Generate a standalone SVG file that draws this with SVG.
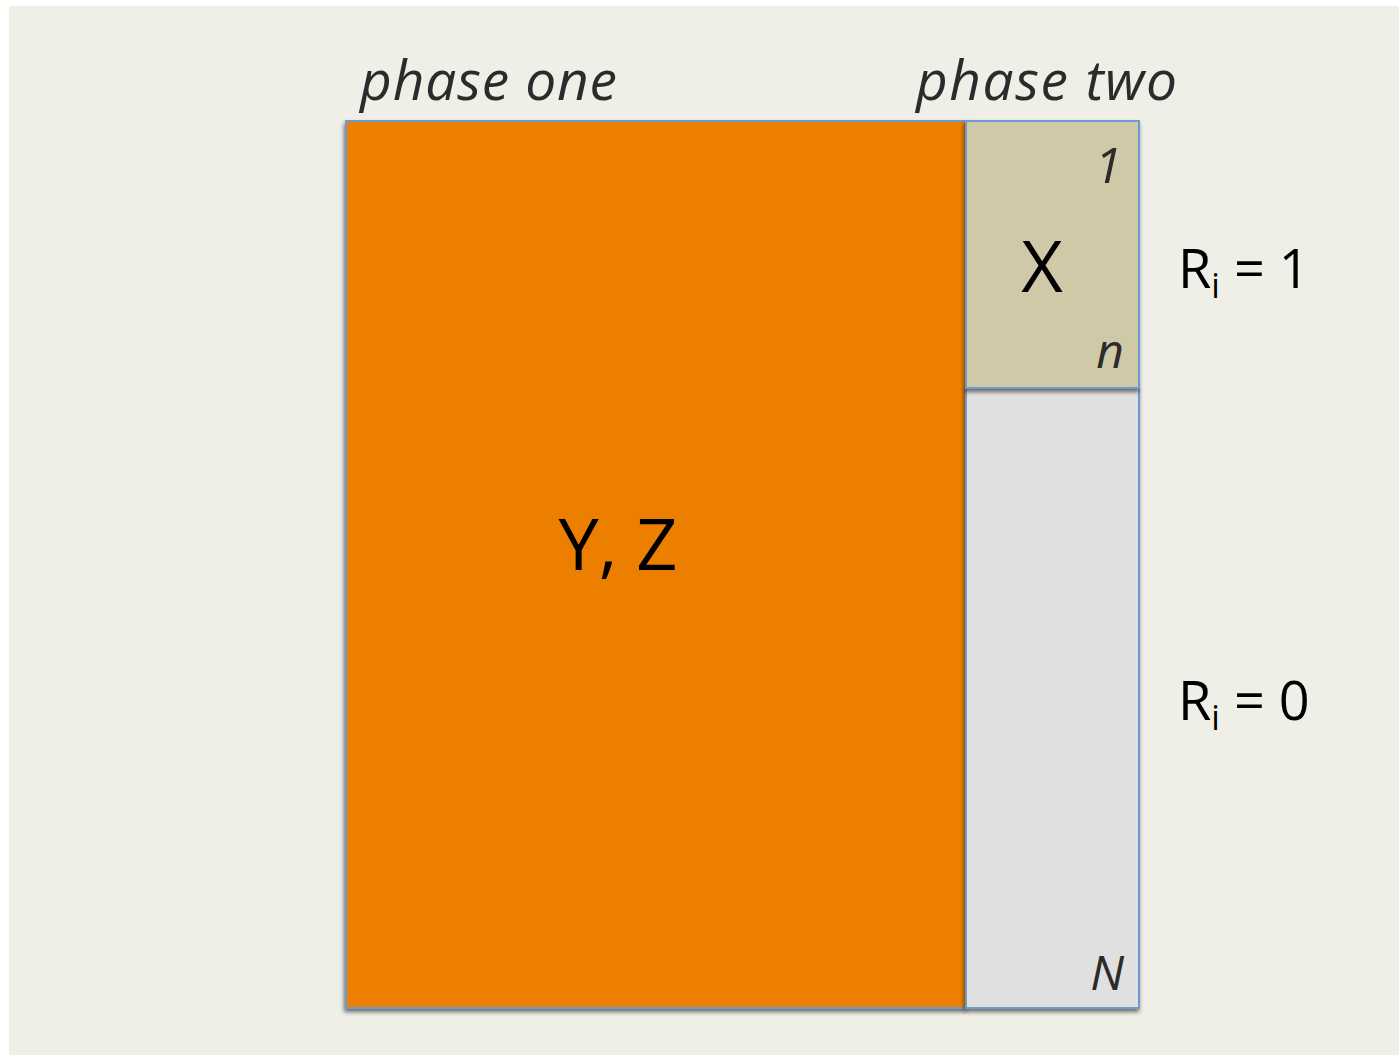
<svg xmlns="http://www.w3.org/2000/svg" width="1399" height="1055" viewBox="0 0 1399 1055">
<defs>
<filter id="sh" x="-10%" y="-10%" width="120%" height="120%">
<feGaussianBlur in="SourceAlpha" stdDeviation="2"/>
<feOffset dx="-1" dy="3" result="b"/>
<feComponentTransfer><feFuncA type="linear" slope="0.55"/></feComponentTransfer>
<feMerge><feMergeNode/><feMergeNode in="SourceGraphic"/></feMerge>
</filter>
<style>
.box{stroke:#6A9BD1;stroke-width:2}
.it{font-family:"Open Sans","Noto Sans",sans-serif;font-style:italic;fill:#2b2b2b}
.lb{font-family:"Open Sans","Noto Sans",sans-serif;fill:#000}
</style>
</defs>
<rect x="0" y="0" width="1399" height="1055" fill="#ffffff"/>
<rect x="9" y="6" width="1390" height="1049" fill="#EFEFE7"/>
<g id="phase-labels">
<text class="it" x="360" y="100" font-size="55" textLength="257">phase one</text>
<text class="it" x="916" y="100" font-size="55" textLength="261">phase two</text>
</g>
<g id="node-yz">
<rect class="box" x="346" y="121" width="620" height="887" fill="#ED7F00" filter="url(#sh)"/>
<text class="lb" x="618" y="570" font-size="72" text-anchor="middle">Y, Z</text>
</g>
<g id="node-gray">
<rect class="box" x="966" y="388" width="173" height="620" fill="#E0E0E0" filter="url(#sh)"/>
<text class="it" x="1124" y="990" font-size="48" text-anchor="end">N</text>
</g>
<g id="node-x">
<rect class="box" x="966" y="121" width="173" height="267" fill="#CFC9A8" filter="url(#sh)"/>
<text class="it" x="1122" y="183" font-size="50" text-anchor="end">1</text>
<text class="it" x="1124" y="368" font-size="48" text-anchor="end">n</text>
<text class="lb" x="1042" y="292" font-size="72" text-anchor="middle">X</text>
</g>
<g id="r-labels">
<text class="lb" x="1178" y="288" font-size="54">R<tspan font-size="34" dy="10">i</tspan><tspan dy="-10"> = 1</tspan></text>
<text class="lb" x="1178" y="720" font-size="54">R<tspan font-size="34" dy="10">i</tspan><tspan dy="-10"> = 0</tspan></text>
</g>
<g id="connectors"></g>
</svg>
